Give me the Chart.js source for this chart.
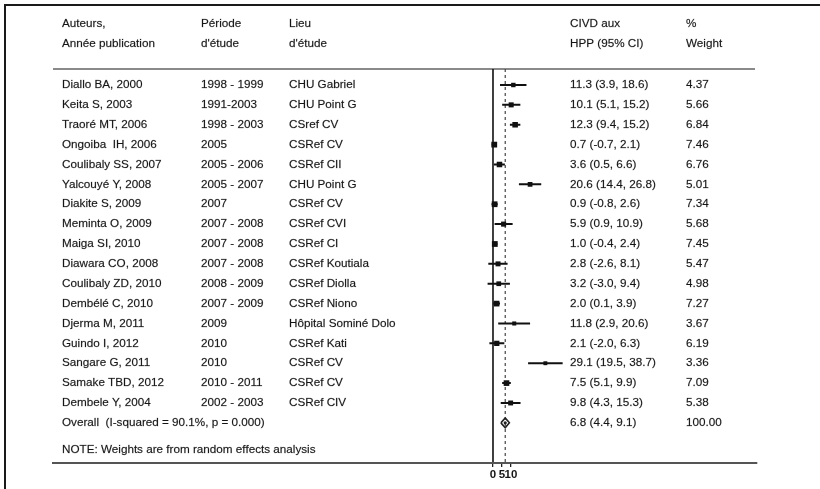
<!DOCTYPE html>
<html>
<head>
<meta charset="utf-8">
<script src="https://cdn.jsdelivr.net/npm/chart.js@4/dist/chart.umd.min.js"></script>
<style>
  html,body{margin:0;padding:0;background:#fff;}
  #wrap{width:820px;height:489px;}
</style>
</head>
<body>
<div id="wrap"><canvas id="c" width="820" height="489"></canvas></div>
<script>
const AUTEURS = ['Diallo BA, 2000','Keita S, 2003','Traoré MT, 2006','Ongoiba  IH, 2006','Coulibaly SS, 2007','Yalcouyé Y, 2008','Diakite S, 2009','Meminta O, 2009','Maiga SI, 2010','Diawara CO, 2008','Coulibaly ZD, 2010','Dembélé C, 2010','Djerma M, 2011','Guindo I, 2012','Sangare G, 2011','Samake TBD, 2012','Dembele Y, 2004'];
const PERIODES = ['1998 - 1999','1991-2003','1998 - 2003','2005','2005 - 2006','2005 - 2007','2007','2007 - 2008','2007 - 2008','2007 - 2008','2008 - 2009','2007 - 2009','2009','2010','2010','2010 - 2011','2002 - 2003'];
const LIEUX = ['CHU Gabriel','CHU Point G','CSref CV','CSRef CV','CSRef CII','CHU Point G','CSRef CV','CSRef CVI','CSRef CI','CSRef Koutiala','CSRef Diolla','CSRef Niono','Hôpital Sominé Dolo','CSRef Kati','CSRef CV','CSRef CV','CSRef CIV'];
const EST = [11.3,10.1,12.3,0.7,3.6,20.6,0.9,5.9,1.0,2.8,3.2,2.0,11.8,2.1,29.1,7.5,9.8];
const LO  = [3.9,5.1,9.4,-0.7,0.5,14.4,-0.8,0.9,-0.4,-2.6,-3.0,0.1,2.9,-2.0,19.5,5.1,4.3];
const HI  = [18.6,15.2,15.2,2.1,6.6,26.8,2.6,10.9,2.4,8.1,9.4,3.9,20.6,6.3,38.7,9.9,15.3];
const WEIGHTS = [4.37,5.66,6.84,7.46,6.76,5.01,7.34,5.68,7.45,5.47,4.98,7.27,3.67,6.19,3.36,7.09,5.38];
const OVERALL = {est:6.8, lo:4.4, hi:9.1, weight:'100.00', label:'Overall  (I-squared = 90.1%, p = 0.000)'};
const X_TICKS = [0,5,10];
const HEADERS = [['Auteurs,','Année publication'],['Période',"d'étude"],['Lieu',"d'étude"],['CIVD aux','HPP (95% CI)'],['%','Weight']];
const NOTE = 'NOTE: Weights are from random effects analysis';

const COLX = [62,201,289,570,686];
const FAMILY = '"Liberation Sans", Arial, sans-serif';
const FONT = '11.7px ' + FAMILY;
const INK = '#161616';
const rowY = i => i+1;               // studies 1..17, overall 18
const OVERALL_ROW = AUTEURS.length+1;
const fmt = (e,l,h) => `${e.toFixed(1)} (${l.toFixed(1)}, ${h.toFixed(1)})`;

// CI segments, broken by nulls
const ciData = [];
EST.forEach((e,i)=>{ ciData.push({x:LO[i],y:rowY(i)},{x:HI[i],y:rowY(i)},{x:null,y:null}); });
const boxData = EST.map((e,i)=>({x:e,y:rowY(i)}));
const dh = 0.25;
const diamond = [
  {x:OVERALL.lo,y:OVERALL_ROW},{x:OVERALL.est,y:OVERALL_ROW-dh},
  {x:OVERALL.hi,y:OVERALL_ROW},{x:OVERALL.est,y:OVERALL_ROW+dh},{x:OVERALL.lo,y:OVERALL_ROW}
];

function txt(ctx, s, x, y){ ctx.fillText(s,x,y); ctx.strokeText(s,x,y); }

const Table = {
  id:'table',
  beforeDraw(chart){
    const ctx = chart.ctx, {top,bottom} = chart.chartArea;
    const x = chart.scales.x, y = chart.scales.y;
    ctx.save();
    // frame
    ctx.strokeStyle = '#1a1a1a'; ctx.lineWidth = 2;
    ctx.beginPath(); ctx.moveTo(5,489); ctx.lineTo(5,5); ctx.lineTo(820,5); ctx.stroke();
    // header rule
    ctx.strokeStyle = '#8a8a8a'; ctx.lineWidth = 2;
    ctx.beginPath(); ctx.moveTo(53,top); ctx.lineTo(755,top); ctx.stroke();
    // null line
    const x0 = x.getPixelForValue(0);
    ctx.strokeStyle = '#111'; ctx.lineWidth = 1.6;
    ctx.beginPath(); ctx.moveTo(x0,top); ctx.lineTo(x0,bottom); ctx.stroke();
    // overall dashed line
    const xo = x.getPixelForValue(OVERALL.est);
    ctx.strokeStyle = '#444'; ctx.lineWidth = 1.2; ctx.setLineDash([3,3]);
    ctx.beginPath(); ctx.moveTo(xo,top); ctx.lineTo(xo,bottom); ctx.stroke();
    ctx.setLineDash([]);
    // text
    ctx.fillStyle = INK; ctx.strokeStyle = 'rgba(22,22,22,0.45)'; ctx.lineWidth = 0.35;
    ctx.font = FONT; ctx.textBaseline = 'middle'; ctx.textAlign = 'left';
    HEADERS.forEach((h,c)=>{ txt(ctx,h[0],COLX[c],24); txt(ctx,h[1],COLX[c],44); });
    AUTEURS.forEach((a,i)=>{
      const py = y.getPixelForValue(rowY(i));
      txt(ctx,a,COLX[0],py);
      txt(ctx,PERIODES[i],COLX[1],py);
      txt(ctx,LIEUX[i],COLX[2],py);
      txt(ctx,fmt(EST[i],LO[i],HI[i]),COLX[3],py);
      txt(ctx,WEIGHTS[i].toFixed(2),COLX[4],py);
    });
    const po = y.getPixelForValue(OVERALL_ROW);
    txt(ctx,OVERALL.label,COLX[0],po);
    txt(ctx,fmt(OVERALL.est,OVERALL.lo,OVERALL.hi),COLX[3],po);
    txt(ctx,OVERALL.weight,COLX[4],po);
    txt(ctx,NOTE,COLX[0],450);
    ctx.restore();
  }
};

new Chart(document.getElementById('c').getContext('2d'), {
  type:'scatter',
  data:{datasets:[
    {data:ciData, showLine:true, spanGaps:false, borderColor:'#111', borderWidth:2, pointRadius:0},
    {data:boxData, pointStyle:'rect', pointRadius:ctx=>1.5*Math.sqrt(WEIGHTS[ctx.dataIndex]||1),
      backgroundColor:'#111', borderColor:'#111', borderWidth:0},
    {data:diamond, showLine:true, borderColor:'#222', borderWidth:1.6, pointRadius:0, fill:false},
    {data:[{x:OVERALL.est,y:OVERALL_ROW}], pointRadius:1.6, backgroundColor:'#222', borderWidth:0}
  ]},
  options:{
    responsive:false, animation:false, events:[],
    layout:{padding:{left:53, right:63, top:69, bottom:0}},
    plugins:{legend:{display:false}, tooltip:{enabled:false}},
    scales:{
      x:{type:'linear', min:-244.44, max:146.67,
        afterBuildTicks:s=>{ s.ticks = X_TICKS.map(v=>({value:v})); },
        afterFit:s=>{ s.height = 26; },
        grid:{drawOnChartArea:false, drawTicks:true, tickLength:4, color:'#222', lineWidth:1.3},
        border:{display:true, color:'#555', width:2},
        ticks:{autoSkip:false, maxRotation:0, padding:1, color:INK, font:{family:FAMILY, size:11.5, weight:'bold'}, callback:v=>String(v)}
      },
      y:{type:'linear', reverse:true, min:0.195, max:20.02, display:false}
    }
  },
  plugins:[Table]
});
</script>
</body>
</html>
